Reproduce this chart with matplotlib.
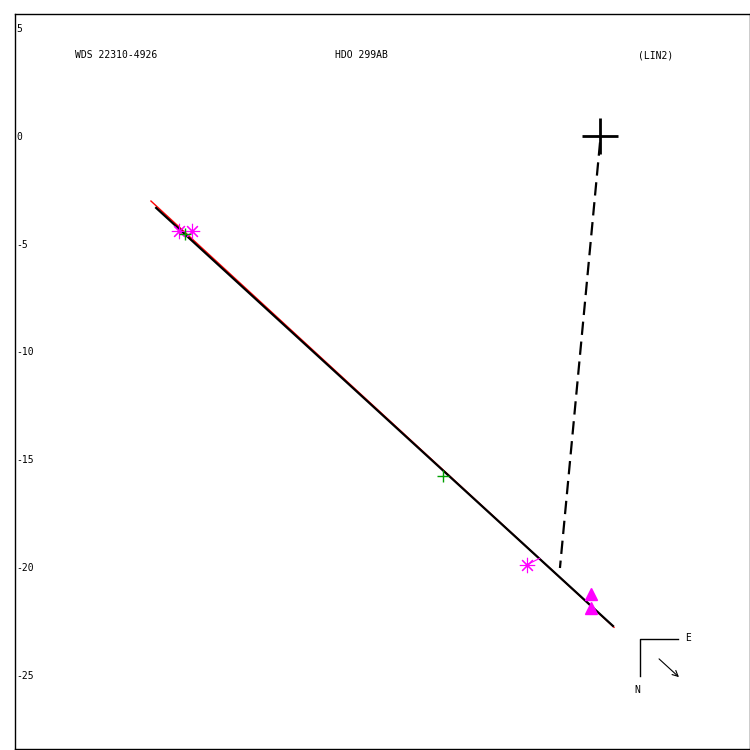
import matplotlib.pyplot as plt

# measurements (arcsec), x = east offset, y = north offset
ast_x = [-19.54, -18.93, -3.39]
ast_y = [-4.41, -4.41, -19.90]
ast_fit_x = [-19.45, -18.95, -2.80]
ast_fit_y = [-4.45, -4.50, -19.60]
plus_x = [-19.26, -7.29]
plus_y = [-4.55, -15.78]
tri_x = [-0.42, -0.42]
tri_y = [-21.25, -21.90]

fit_x = [-20.60, 0.60]
fit_y = [-3.34, -22.74]
red_x = [-20.84, 0.65]
red_y = [-3.02, -22.80]
closest_x = [0.0, -1.86]
closest_y = [-0.30, -20.05]

yticks = [5, 0, -5, -10, -15, -20, -25]

fig = plt.figure(figsize=(7.5, 7.5), dpi=100)
ax = fig.add_axes([15/750, 1/750, 735/750, 735/750])
ax.set_xlim(-27.15, 6.96)
ax.set_ylim(-28.45, 5.66)

ax.plot(red_x, red_y, color='red', lw=1)
ax.plot(fit_x, fit_y, color='black', lw=1.6)
ax.plot(closest_x, closest_y, color='black', lw=1.6, linestyle=(0, (6, 3)))

for x0, y0, x1, y1 in zip(ast_x, ast_y, ast_fit_x, ast_fit_y):
    ax.plot([x0, x1], [y0, y1], color='magenta', lw=0.8)
ax.plot(ast_x, ast_y, linestyle='none', marker=(8, 2, 0), color='magenta',
        markersize=11, markeredgewidth=0.8)
ax.plot(tri_x, tri_y, linestyle='none', marker='^', color='magenta', markersize=9)
ax.plot(plus_x, plus_y, linestyle='none', marker='+', color='#00a000',
        markersize=9, markeredgewidth=1)
ax.plot([0], [0], marker='+', color='black', markersize=26, markeredgewidth=2)

ax.set_xticks([])
ax.set_yticks(yticks)
ax.set_yticklabels([str(t) for t in yticks], family='DejaVu Sans Mono', fontsize=7)
ax.tick_params(axis='y', length=0, pad=-1)
for lab in ax.get_yticklabels():
    lab.set_horizontalalignment('left')

mono = dict(family='DejaVu Sans Mono', fontsize=7, transform=ax.transAxes, va='center')
ax.text((75-15)/735, (749-55)/735, 'WDS 22310-4926', ha='left', **mono)
ax.text((335-15)/735, (749-55)/735, 'HDO 299AB', ha='left', **mono)
ax.text((638-15)/735, (749-55)/735, '(LIN2)', ha='left', **mono)

# compass
ax.plot([(640-15)/735, (640-15)/735, (678-15)/735],
        [(749-676)/735, (749-639)/735, (749-639)/735],
        color='black', lw=1, transform=ax.transAxes)
ax.text((688-15)/735, (749-638)/735, 'E', ha='center', **mono)
ax.text((637-15)/735, (749-690)/735, 'N', ha='center', **mono)
ax.annotate('', xy=((681-15)/735, (749-679)/735), xytext=((657-15)/735, (749-657)/735),
            xycoords='axes fraction',
            arrowprops=dict(arrowstyle='->', color='black', lw=0.8))

for s in ax.spines.values():
    s.set_linewidth(1)

fig.savefig('out.png', dpi=100)
